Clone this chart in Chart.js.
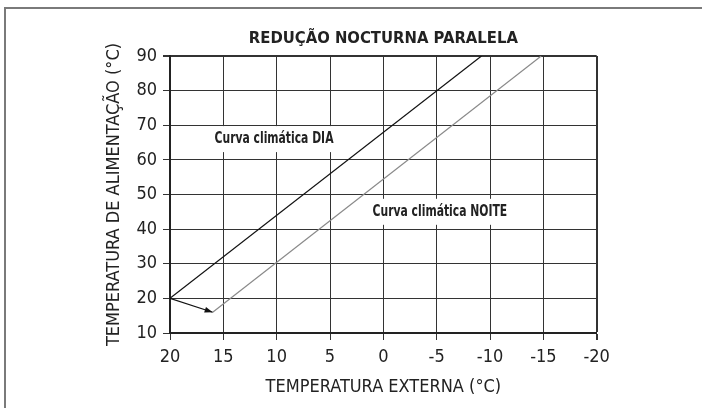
<!DOCTYPE html>
<html>
<head>
<meta charset="utf-8">
<script src="https://cdn.jsdelivr.net/npm/chart.js@4/dist/chart.umd.min.js"></script>
<style>
  html, body { margin: 0; padding: 0; background: #fff; }
  canvas { display: block; }
</style>
</head>
<body>
<canvas id="c" width="702" height="408"></canvas>
<script>
// Axis tick values
const xTicks = [20, 15, 10, 5, 0, -5, -10, -15, -20];
const yTicks = [10, 20, 30, 40, 50, 60, 70, 80, 90];

// Day heating curve (external temp -> supply temp)
const diaX = [20, -9.2];
const diaY = [20, 90];

// Night curve, shifted parallel
const noiteX = [16, -14.8];
const noiteY = [16, 90];

// Shift arrow from day curve start to night curve start
const shiftX = [20, 16];
const shiftY = [20, 16];

// Curve captions, anchored in data coordinates
const captionText = ['Curva climática DIA', 'Curva climática NOITE'];
const captionX = [10.25, -5.3];
const captionY = [66, 45];

const FONT = "'Liberation Sans Narrow', 'Arial Narrow', 'DejaVu Sans Condensed', sans-serif";
const INK = '#222';

const toPoints = (xs, ys) => xs.map((x, i) => ({ x, y: ys[i] }));

const decor = {
  id: 'decor',
  beforeDraw(chart) {
    const ctx = chart.ctx;
    ctx.save();
    ctx.fillStyle = '#fff';
    ctx.fillRect(0, 0, chart.width, chart.height);
    // outer frame (top and left edges)
    ctx.strokeStyle = '#7a7a7a';
    ctx.lineWidth = 2;
    ctx.beginPath();
    ctx.moveTo(5, chart.height);
    ctx.lineTo(5, 8);
    ctx.lineTo(chart.width, 8);
    ctx.stroke();
    ctx.restore();
  },
  beforeDatasetsDraw(chart) {
    const ctx = chart.ctx;
    const xs = chart.scales.x, ys = chart.scales.y;
    const squeeze = 0.8; // narrow caption lettering
    ctx.save();
    ctx.font = 'bold 15px ' + FONT;
    ctx.textAlign = 'center';
    ctx.textBaseline = 'middle';
    captionText.forEach((t, i) => {
      const px = xs.getPixelForValue(captionX[i]);
      const py = ys.getPixelForValue(captionY[i]);
      const w = ctx.measureText(t).width * squeeze;
      ctx.fillStyle = '#fff';
      ctx.fillRect(px - w / 2 - 4, py - 13, w + 8, 26);
      ctx.save();
      ctx.translate(px, py);
      ctx.scale(squeeze, 1);
      ctx.fillStyle = INK;
      ctx.fillText(t, 0, 0);
      ctx.restore();
    });
    ctx.restore();
  },
  afterDatasetsDraw(chart) {
    const ctx = chart.ctx;
    const xs = chart.scales.x, ys = chart.scales.y;
    const x0 = xs.getPixelForValue(shiftX[0]), y0 = ys.getPixelForValue(shiftY[0]);
    const x1 = xs.getPixelForValue(shiftX[1]), y1 = ys.getPixelForValue(shiftY[1]);
    const a = Math.atan2(y1 - y0, x1 - x0);
    const len = 8, half = 3;
    ctx.save();
    ctx.translate(x1, y1);
    ctx.rotate(a);
    ctx.fillStyle = '#111';
    ctx.beginPath();
    ctx.moveTo(0, 0);
    ctx.lineTo(-len, -half);
    ctx.lineTo(-len, half);
    ctx.closePath();
    ctx.fill();
    ctx.restore();
  }
};

new Chart(document.getElementById('c'), {
  type: 'scatter',
  data: {
    datasets: [
      { label: 'DIA', data: toPoints(diaX, diaY), showLine: true, borderColor: '#111', borderWidth: 1.2, pointRadius: 0 },
      { label: 'NOITE', data: toPoints(noiteX, noiteY), showLine: true, borderColor: '#8a8a8a', borderWidth: 1.2, pointRadius: 0 },
      { label: 'shift', data: toPoints(shiftX, shiftY), showLine: true, borderColor: '#111', borderWidth: 1.2, pointRadius: 0 }
    ]
  },
  options: {
    responsive: false,
    animation: false,
    events: [],
    layout: { padding: { left: 104, right: 105.3, top: 0, bottom: 10 } },
    plugins: {
      legend: { display: false },
      tooltip: { enabled: false },
      title: {
        display: true,
        fullSize: false,
        text: 'REDUÇÃO NOCTURNA PARALELA',
        color: INK,
        font: { family: FONT, size: 16.5, weight: 'bold' },
        padding: { top: 29, bottom: 7.2 }
      }
    },
    scales: {
      x: {
        type: 'linear',
        reverse: true,
        min: -20,
        max: 20,
        afterBuildTicks(s) { s.ticks = xTicks.map(v => ({ value: v })); },
        afterFit(s) { s.height = 65; },
        ticks: { color: INK, font: { family: FONT, size: 18 }, padding: 7, maxRotation: 0, autoSkip: false },
        grid: {
          color: '#333',
          lineWidth: c => (c.tick && c.tick.value === -20 ? 2 : 1),
          tickLength: 7
        },
        border: { color: '#222', width: 2 },
        title: { display: true, text: 'TEMPERATURA EXTERNA (°C)', color: INK, font: { family: FONT, size: 18 }, padding: { top: 0, bottom: 0 } }
      },
      y: {
        type: 'linear',
        min: 10,
        max: 90,
        afterBuildTicks(s) { s.ticks = yTicks.map(v => ({ value: v })); },
        afterFit(s) { s.width = 66; },
        ticks: { color: INK, font: { family: FONT, size: 18 }, padding: 6, autoSkip: false },
        grid: {
          color: '#333',
          lineWidth: c => (c.tick && c.tick.value === 90 ? 2 : 1),
          tickLength: 7
        },
        border: { color: '#222', width: 2 },
        title: { display: true, text: 'TEMPERATURA DE ALIMENTAÇÃO (°C)', color: INK, font: { family: FONT, size: 18 }, padding: { top: 0, bottom: 0 } }
      }
    }
  },
  plugins: [decor]
});
</script>
</body>
</html>
